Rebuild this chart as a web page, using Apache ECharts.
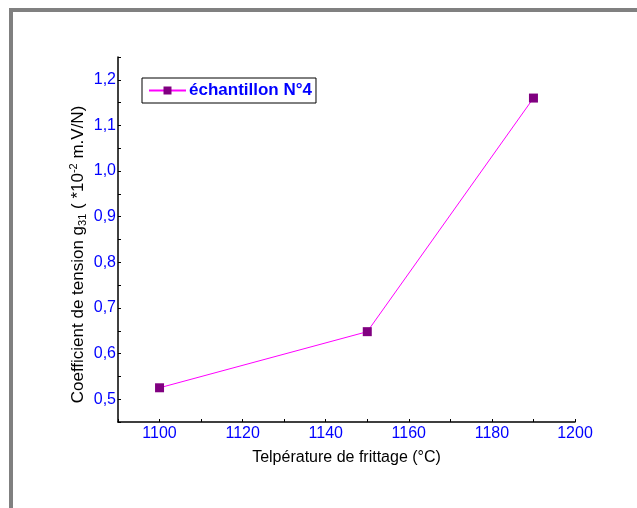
<!DOCTYPE html>
<html>
<head>
<meta charset="utf-8">
<script src="https://cdn.jsdelivr.net/npm/echarts@6/dist/echarts.min.js"></script>
<style>
html, body { margin: 0; padding: 0; background: #fff; }
#container { width: 637px; height: 508px; }
</style>
</head>
<body>
<div id="container"></div>
<script>
var temperatures = [1100, 1150, 1190];
var g31 = [0.525, 0.648, 1.16];
var seriesName = 'échantillon N°4';

var dom = document.getElementById("container");
var myChart = echarts.init(dom);

var option = {
    backgroundColor: '#ffffff',
    textStyle: { fontFamily: 'Liberation Sans, Arial, sans-serif' },
    animation: false,
    graphic: [
        { type: 'rect', shape: { x: 9, y: 8, width: 640, height: 4 }, style: { fill: '#808080' } },
        { type: 'rect', shape: { x: 9, y: 8, width: 4, height: 520 }, style: { fill: '#808080' } }
    ],
    legend: {
        data: [seriesName],
        left: 142,
        top: 78,
        orient: 'vertical',
        borderColor: '#000',
        borderWidth: 1,
        borderRadius: 0,
        padding: [4, 4, 4, 6],
        itemWidth: 37,
        itemHeight: 10,
        itemGap: 0,
        textStyle: { color: '#0000ff', fontWeight: 'bold', fontSize: 17, padding: [0, 0, 0, -2] }
    },
    grid: { left: 118, right: 62, top: 57, bottom: 86, containLabel: false },
    xAxis: {
        type: 'value',
        min: 1090,
        max: 1200,
        interval: 10,
        name: 'Telpérature de frittage (°C)',
        nameLocation: 'middle',
        nameGap: 28,
        nameTextStyle: { color: '#000', fontSize: 16 },
        axisLine: { lineStyle: { color: '#000', width: 1.5 } },
        axisTick: { inside: true, length: 3, lineStyle: { color: '#000' } },
        splitLine: { show: false },
        axisLabel: {
            color: '#0000ff',
            fontSize: 16,
            margin: 4,
            formatter: function (v) { return v % 20 === 0 ? String(v) : ''; }
        }
    },
    yAxis: {
        type: 'value',
        min: 0.45,
        max: 1.25,
        interval: 0.05,
        name: '{n|Coefficient de tension g}{sub|31}{n| ( *10}{sup|-2}{n| m.V/N)}',
        nameLocation: 'middle',
        nameGap: 30,
        nameMoveOverlap: false,
        nameRotate: 90,
        nameTextStyle: {
            color: '#000',
            fontSize: 17,
            padding: [0, 30, 0, 0],
            rich: {
                n: { color: '#000', fontSize: 17 },
                sub: { color: '#000', fontSize: 11, verticalAlign: 'bottom', padding: [9, 0, 0, 0] },
                sup: { color: '#000', fontSize: 11, verticalAlign: 'top', padding: [0, 0, 9, 0] }
            }
        },
        axisLine: { show: true, lineStyle: { color: '#000', width: 1.5 } },
        axisTick: { show: true, inside: true, length: 3, lineStyle: { color: '#000' } },
        splitLine: { show: false },
        axisLabel: {
            color: '#0000ff',
            fontSize: 16,
            margin: 2,
            formatter: function (v) {
                var k = Math.round(v * 100);
                return k % 10 === 0 ? (k / 100).toFixed(1).replace('.', ',') : '';
            }
        }
    },
    series: [
        {
            name: seriesName,
            type: 'line',
            data: temperatures.map(function (t, i) { return [t, g31[i]]; }),
            symbol: 'rect',
            symbolSize: 9,
            lineStyle: { color: '#ff00ff', width: 1 },
            itemStyle: { color: '#800080' }
        }
    ]
};

myChart.setOption(option, true);
</script>
</body>
</html>
